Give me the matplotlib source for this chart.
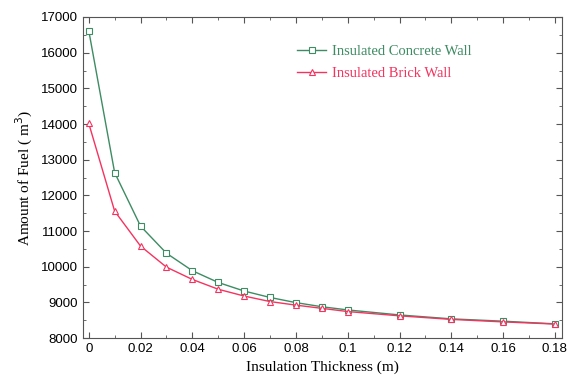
import matplotlib.pyplot as plt
from matplotlib.ticker import MultipleLocator

# Dikte isolatie (m)
thickness = [0, 0.01, 0.02, 0.03, 0.04, 0.05, 0.06, 0.07, 0.08, 0.09, 0.10, 0.12, 0.14, 0.16, 0.18]

# Brandstofverbruik (m3)
concrete = [16620, 12640, 11140, 10380, 9890, 9560, 9320, 9140, 8995, 8880, 8790, 8650, 8540, 8475, 8400]
brick = [14020, 11560, 10580, 9990, 9645, 9370, 9180, 9025, 8925, 8835, 8745, 8625, 8525, 8455, 8395]

green = '#3d8c63'
red = '#f5335f'

fig = plt.figure(figsize=(5.67, 3.86), dpi=100)
ax = fig.add_axes([0.146, 0.124, 0.845, 0.832])

ax.plot(thickness, concrete, color=green, lw=1.0, marker='s', ms=4.5,
        mfc='white', mec=green, mew=0.8, label='Insulated Concrete Wall')
ax.plot(thickness, brick, color=red, lw=1.0, marker='^', ms=4.5,
        mfc='white', mec=red, mew=0.8, label='Insulated Brick Wall')

ax.set_xlim(-0.0023, 0.1827)
ax.set_ylim(8000, 17000)
ax.set_xticks([0, 0.02, 0.04, 0.06, 0.08, 0.1, 0.12, 0.14, 0.16, 0.18])
ax.set_xticklabels(['0', '0.02', '0.04', '0.06', '0.08', '0.1', '0.12', '0.14', '0.16', '0.18'])
ax.xaxis.set_minor_locator(MultipleLocator(0.01))
ax.yaxis.set_major_locator(MultipleLocator(1000))
ax.yaxis.set_minor_locator(MultipleLocator(500))

ax.tick_params(which='both', direction='in', top=True, right=True, colors='#555555',
               labelcolor='black', labelsize=9.5)
ax.tick_params(which='major', length=4)
ax.tick_params(which='minor', length=2)
for lbl in ax.get_xticklabels() + ax.get_yticklabels():
    lbl.set_family('Liberation Sans')
for s in ax.spines.values():
    s.set_color('#555555')

ax.set_xlabel('Insulation Thickness (m)', family='Liberation Serif', fontsize=11)
ax.set_ylabel('Amount of Fuel ( m$^{3}$)', family='Liberation Serif', fontsize=11)

leg = ax.legend(loc='upper left', bbox_to_anchor=(0.42, 0.955), frameon=False,
                prop={'family': 'Liberation Serif', 'size': 10.5},
                handlelength=2.0, handletextpad=0.4, labelspacing=0.62)
for txt, c in zip(leg.get_texts(), [green, red]):
    txt.set_color(c)

fig.savefig('out.png', dpi=100)
